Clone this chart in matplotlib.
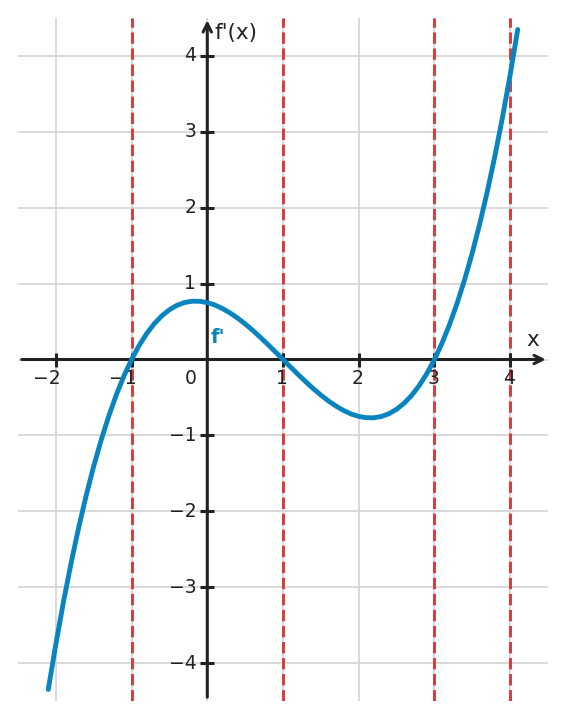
import matplotlib
matplotlib.use("Agg")
import matplotlib.pyplot as plt
from matplotlib.transforms import offset_copy

# curve samples
xs = [-2.1, -2.0, -1.9, -1.8, -1.7, -1.6, -1.5, -1.4, -1.3, -1.2, -1.1, -1.0,
      -0.9, -0.8, -0.7, -0.6, -0.5, -0.4, -0.3, -0.2, -0.1, 0.0,
      0.1, 0.2, 0.3, 0.4, 0.5, 0.6, 0.7, 0.8, 0.9, 1.0,
      1.1, 1.2, 1.3, 1.4, 1.5, 1.6, 1.7, 1.8, 1.9, 2.0,
      2.1, 2.2, 2.3, 2.4, 2.5, 2.6, 2.7, 2.8, 2.9, 3.0,
      3.1, 3.2, 3.3, 3.4, 3.5, 3.6, 3.7, 3.8, 3.9, 4.0, 4.1]
ys = [-4.348, -3.75, -3.197, -2.688, -2.221, -1.794, -1.406, -1.056, -0.742, -0.462, -0.215, 0.0,
      0.185, 0.342, 0.472, 0.576, 0.656, 0.714, 0.751, 0.768, 0.767, 0.75,
      0.718, 0.672, 0.614, 0.546, 0.469, 0.384, 0.293, 0.198, 0.100, 0.0,
      -0.100, -0.198, -0.293, -0.384, -0.469, -0.546, -0.614, -0.672, -0.718, -0.75,
      -0.767, -0.768, -0.751, -0.714, -0.656, -0.576, -0.472, -0.342, -0.185, 0.0,
      0.215, 0.462, 0.742, 1.056, 1.406, 1.794, 2.221, 2.688, 3.197, 3.75, 4.348]
vlines_x = [-1, 1, 3, 4]
xticks = [-2, -1, 1, 2, 3, 4]
yticks = [-4, -3, -2, -1, 1, 2, 3, 4]
curve_label = "f'"
x_label = "x"
y_label = "f'(x)"

BLUE = "#0a84bf"
RED = "#d93a3a"
AX = "#222222"

fig = plt.figure(figsize=(5.67, 7.19), dpi=100)
ax = fig.add_axes([18/567, 18/719, 530/567, 683/719])
ax.set_xlim(-2.5, 4.5)
ax.set_ylim(-4.5, 4.5)
for s in ax.spines.values():
    s.set_visible(False)
ax.set_xticks([])
ax.set_yticks([])

# grid
for gx in [-2, -1, 0, 1, 2, 3, 4]:
    ax.axvline(gx, color="#d3d3d3", lw=1.2, zorder=0)
for gy in [-4, -3, -2, -1, 0, 1, 2, 3, 4]:
    ax.axhline(gy, color="#d3d3d3", lw=1.2, zorder=0)

# red dashed lines
for vx in vlines_x:
    ax.axvline(vx, color=RED, lw=2.1, ls=(0, (3.9, 1.6)), zorder=1)

# axes with arrows
ax.annotate("", xy=(4.47, 0), xytext=(-2.45, 0),
            arrowprops=dict(arrowstyle="->,head_length=0.6,head_width=0.3", lw=2.2, color=AX,
                            shrinkA=0, shrinkB=0), zorder=3)
ax.annotate("", xy=(0, 4.47), xytext=(0, -4.45),
            arrowprops=dict(arrowstyle="->,head_length=0.6,head_width=0.3", lw=2.2, color=AX,
                            shrinkA=0, shrinkB=0), zorder=3)

# tick marks
ax.plot(xticks, [0]*len(xticks), ls="none", marker="|", ms=10, mew=2.2, color=AX, zorder=4)
ax.plot([0]*len(yticks), yticks, ls="none", marker="_", ms=10, mew=2.2, color=AX, zorder=4)

# tick labels
FS = 13.5
tr_x = offset_copy(ax.transData, fig=fig, x=5, y=-10, units="dots")
for t in xticks:
    ax.text(t, 0, f"{t}".replace("-", "\u2212"), transform=tr_x, ha="right", va="top",
            fontsize=FS, color=AX)
ax.text(0, 0, "0", transform=offset_copy(ax.transData, fig=fig, x=-11, y=-10, units="dots"),
        ha="right", va="top", fontsize=FS, color=AX)
tr_y = offset_copy(ax.transData, fig=fig, x=-11, y=0, units="dots")
for t in yticks:
    ax.text(0, t, f"{t}".replace("-", "\u2212"), transform=tr_y, ha="right", va="center",
            fontsize=FS, color=AX)

# curve
ax.plot(xs, ys, color=BLUE, lw=3.5, zorder=5, solid_capstyle="round")
ax.text(0.04, 0.29, curve_label, color=BLUE, fontsize=14, fontweight="bold",
        ha="left", va="center", zorder=6)

# axis labels
ax.text(4.30, 0.26, x_label, fontsize=15.5, color=AX, ha="center", va="center")
ax.text(0.1, 4.3, y_label, fontsize=15.5, color=AX, ha="left", va="center")

fig.savefig("out.png", dpi=100)
